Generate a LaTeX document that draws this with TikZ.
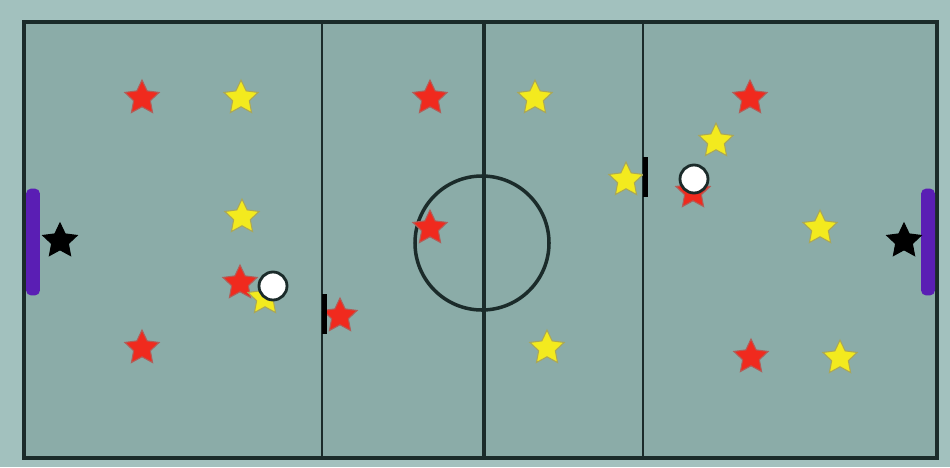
\documentclass[tikz,border=0pt]{standalone}
\usetikzlibrary{shapes.geometric}

\definecolor{backdrop}{HTML}{A2C1BE}
\definecolor{pitch}{HTML}{8BACA8}
\definecolor{linecol}{HTML}{1B2B2A}
\definecolor{goalcol}{HTML}{5A1EB4}
\definecolor{redstar}{HTML}{F02A1E}
\definecolor{yellowstar}{HTML}{F3EA1E}

\begin{document}
\begin{tikzpicture}[
  x=0.02cm, y=-0.02cm,
  star5/.style={star, star points=5, star point ratio=2.05, minimum size=0.72cm, inner sep=0pt, line width=0.6pt},
  redplayer/.style={star5, fill=redstar, draw=redstar!60!black!70},
  yellowplayer/.style={star5, fill=yellowstar, draw=yellowstar!55!black!70},
  keeper/.style={star5, fill=black, draw=black},
  ball/.style={circle, fill=white, draw=linecol, line width=1.6pt, minimum size=0.56cm, inner sep=0pt},
  marker/.style={rectangle, fill=black, minimum width=0.1cm, minimum height=0.8cm, inner sep=0pt},
  goal/.style={rectangle, rounded corners=3pt, fill=goalcol, minimum width=0.28cm, minimum height=2.14cm, inner sep=0pt},
]
  \useasboundingbox (0,0) rectangle (950,467);
  \fill[backdrop] (0,0) rectangle (950,467);

  % pitch and markings
  \fill[pitch] (24,22) rectangle (937,458);
  \draw[linecol, line width=1.3pt] (322,22) -- (322,458);
  \draw[linecol, line width=1.3pt] (643,22) -- (643,458);
  \draw[linecol, line width=2.1pt] (484,22) -- (484,458);
  \draw[linecol, line width=2pt] (482,243) circle (67);
  \draw[linecol, line width=2.8pt] (24,22) rectangle (937,458);

  % goals
  \node[goal] (goalL) at (33,242) {};
  \node[goal] (goalR) at (928,242) {};

  % keepers
  \node[keeper] (keepL) at (60,241) {};
  \node[keeper] (keepR) at (904,241) {};

  % red team
  \foreach \px/\py [count=\i] in {142/98, 430/98, 750/98, 430/228, 240/283, 340/316, 142/348, 751/357, 693/192}
    \node[redplayer] (red\i) at (\px,\py) {};

  % yellow team
  \foreach \px/\py [count=\i] in {241/98, 535/98, 716/141, 626/180, 242/217, 265/298, 820/228, 547/348, 840/358}
    \node[yellowplayer] (yel\i) at (\px,\py) {};

  % markers on the lines
  \node[marker] (markL) at (324,314) {};
  \node[marker] (markR) at (645,177) {};

  % balls
  \node[ball] (ballL) at (273,286) {};
  \node[ball] (ballR) at (694,179) {};
\end{tikzpicture}
\end{document}
